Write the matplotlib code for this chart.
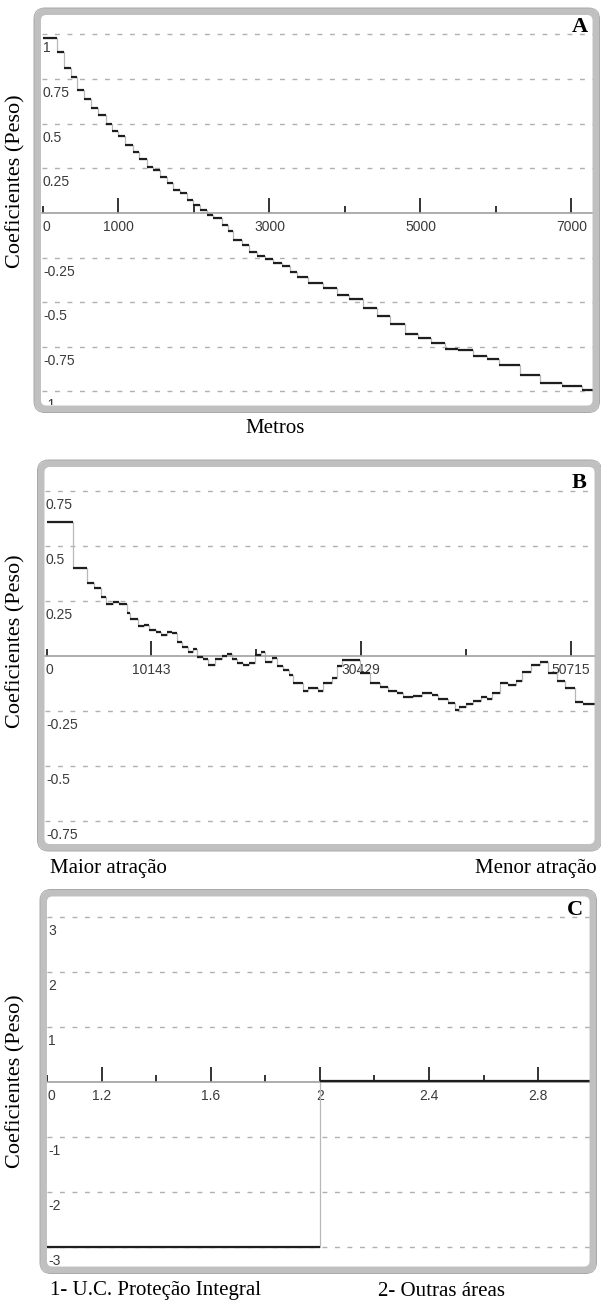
import matplotlib
matplotlib.use('Agg')
import matplotlib.pyplot as plt
import matplotlib.transforms as mtransforms
from matplotlib.patches import FancyBboxPatch

# Painel A: distancia (m) x coeficiente
dist_a = [0, 185, 278, 371, 450, 543, 636, 728, 834, 914,
          993, 1086, 1192, 1272, 1377, 1457, 1550, 1642, 1722, 1815,
          1907, 1987, 2079, 2172, 2252, 2371, 2450, 2517, 2636, 2728,
          2834, 2940, 3046, 3166, 3272, 3364, 3510, 3709, 3894, 4053,
          4238, 4424, 4596, 4795, 4967, 5139, 5325, 5497, 5695, 5881,
          6040, 6318, 6583, 6874, 7139]
coef_a = [0.98, 0.90, 0.81, 0.76, 0.69, 0.64, 0.59, 0.55, 0.50, 0.46,
          0.43, 0.38, 0.34, 0.30, 0.26, 0.24, 0.20, 0.17, 0.13, 0.11,
          0.07, 0.045, 0.017, -0.01, -0.03, -0.07, -0.10, -0.15, -0.18, -0.22,
          -0.24, -0.26, -0.28, -0.30, -0.33, -0.36, -0.39, -0.42, -0.46, -0.48,
          -0.53, -0.58, -0.62, -0.68, -0.70, -0.73, -0.76, -0.77, -0.80, -0.82,
          -0.85, -0.91, -0.95, -0.97, -0.99]
dist_a_end = 7285

# Painel B
dist_b = [0, 2577, 3872, 4610, 5227, 5711, 6389, 7029, 7744, 8064,
          8867, 9448, 9932, 10581, 11036, 11617, 12101, 12585, 13069, 13708,
          14134, 14579, 15160, 15644, 16293, 16941, 17483, 17909, 18393, 19032,
          19613, 20165, 20716, 21133, 21781, 22265, 22904, 23485, 23872, 24811,
          25295, 26263, 26747, 27619, 28103, 28590, 30329, 31297, 32265, 33040,
          33911, 34492, 35460, 36331, 37299, 37880, 38848, 39526, 39913, 40591,
          41268, 42043, 42624, 43108, 43882, 44657, 45431, 46012, 46883, 47754,
          48529, 49400, 50174, 51142, 51917, 53078]
coef_b = [0.61, 0.40, 0.33, 0.31, 0.27, 0.236, 0.247, 0.236, 0.194, 0.167,
          0.136, 0.142, 0.118, 0.11, 0.095, 0.11, 0.103, 0.065, 0.042, 0.02,
          0.03, -0.003, -0.015, -0.04, -0.015, 0.0, 0.009, -0.015, -0.033, -0.04,
          -0.03, 0.005, 0.02, -0.026, -0.01, -0.048, -0.064, -0.086, -0.124, -0.16,
          -0.147, -0.16, -0.124, -0.10, -0.048, -0.02, -0.079, -0.124, -0.139, -0.16,
          -0.17, -0.188, -0.18, -0.167, -0.177, -0.197, -0.215, -0.245, -0.23, -0.218,
          -0.205, -0.188, -0.197, -0.17, -0.124, -0.132, -0.112, -0.071, -0.041, -0.026,
          -0.079, -0.112, -0.147, -0.208, -0.22, -0.17]
dist_b_end = 53175

# Painel C: categorias
cat_c = [1, 2]
coef_c = [-3.0, 0.02]
cat_c_end = 3

W, H = 601, 1306
plt.rcParams['font.family'] = ['Liberation Sans', 'DejaVu Sans']
fig = plt.figure(figsize=(W / 100, H / 100), dpi=100)

TICK_COLOR = '#3a3a3a'
GRID_COLOR = '#b0b0b0'


def frame(l, t, r, b):
    patch = FancyBboxPatch((l / 100, (H - b) / 100), (r - l) / 100, (b - t) / 100,
                           boxstyle='round,pad=0,rounding_size=0.09',
                           transform=fig.dpi_scale_trans, fill=False,
                           ec='#c0c0c0', lw=5, zorder=5)
    fig.patches.append(patch)
    outer = FancyBboxPatch(((l - 3.5) / 100, (H - b - 3.5) / 100), (r - l + 7) / 100,
                           (b - t + 7) / 100,
                           boxstyle='round,pad=0,rounding_size=0.11',
                           transform=fig.dpi_scale_trans, fill=False,
                           ec='#a8a8a8', lw=0.7, zorder=5)
    fig.patches.append(outer)


def make_axes(l, t, r, b, xlim, ylim):
    ax = fig.add_axes([l / W, 1 - b / H, (r - l) / W, (b - t) / H])
    ax.set_xlim(*xlim)
    ax.set_ylim(*ylim)
    for side in ['top', 'right', 'left']:
        ax.spines[side].set_visible(False)
    ax.spines['bottom'].set_position(('data', 0))
    ax.spines['bottom'].set_color('#a0a0a0')
    ax.spines['bottom'].set_linewidth(1.2)
    ax.set_yticks([])
    ax.tick_params(axis='x', which='major', direction='in', length=11, width=1.4,
                   color='#333333', labelsize=10, labelcolor=TICK_COLOR, pad=5)
    ax.tick_params(axis='x', which='minor', direction='in', length=5, width=1.4,
                   color='#333333')
    return ax


def y_labels(ax, values, labels):
    trans = mtransforms.blended_transform_factory(ax.transAxes, ax.transData)
    trans = trans + mtransforms.ScaledTranslation(1 / 100, -14 / 100, fig.dpi_scale_trans)
    for v, lab in zip(values, labels):
        ax.text(0, v, lab, transform=trans, ha='left', va='center', fontsize=10,
                color=TICK_COLOR, clip_on=True)


def grid(ax, values):
    for v in values:
        ax.axhline(v, color=GRID_COLOR, lw=1.0, ls=(0, (3.5, 5.5)), zorder=1)


def draw_steps(ax, starts, values, end):
    edges = list(starts) + [end]
    ax.step(edges, list(values) + [values[-1]], where='post',
            color='#b8b8b8', lw=0.9, zorder=2)
    ax.hlines(values, edges[:-1], edges[1:], color='#1e1e1e', lw=1.6, zorder=3)


def letter(x, y, s):
    fig.text(x / W, 1 - y / H, s, ha='right', va='center', fontsize=16,
             fontweight='bold', family='Liberation Serif')


def ylabel(y):
    fig.text(16 / W, 1 - y / H, 'Coeficientes (Peso)', rotation=90, ha='center',
             va='center', fontsize=16, family='Liberation Serif')


# ---- A ----
ax_a = make_axes(42, 15, 593, 405, (-13, dist_a_end), (-1.076, 1.109))
grid(ax_a, [1, 0.75, 0.5, 0.25, -0.25, -0.5, -0.75, -1])
ax_a.set_xticks([1000, 3000, 5000, 7000], ['1000', '3000', '5000', '7000'])
ax_a.set_xticks([0, 2000, 4000, 6000], minor=True)
y_labels(ax_a, [1, 0.75, 0.5, 0.25, 0, -0.25, -0.5, -0.75, -1],
         ['1', '0.75', '0.5', '0.25', '0', '-0.25', '-0.5', '-0.75', '-1'])
draw_steps(ax_a, dist_a, coef_a, dist_a_end)
frame(37.5, 11.5, 596, 409)
letter(588, 27, 'A')
ylabel(181)
fig.text(275 / W, 1 - 428 / H, 'Metros', ha='center', va='center', fontsize=15,
         family='Liberation Serif')

# ---- B ----
ax_b = make_axes(45, 467, 596, 844, (-165, dist_b_end), (-0.855, 0.859))
grid(ax_b, [0.75, 0.5, 0.25, -0.25, -0.5, -0.75])
ax_b.set_xticks([10143, 30429, 50715], ['10143', '30429', '50715'])
ax_b.set_xticks([0, 20286, 40572], minor=True)
y_labels(ax_b, [0.75, 0.5, 0.25, 0, -0.25, -0.5, -0.75],
         ['0.75', '0.5', '0.25', '0', '-0.25', '-0.5', '-0.75'])
draw_steps(ax_b, dist_b, coef_b, dist_b_end)
frame(41, 463.5, 598, 847.5)
letter(586, 483, 'B')
ylabel(641)
fig.text(50 / W, 1 - 869 / H, 'Maior atração', ha='left', va='center', fontsize=15,
         family='Liberation Serif')
fig.text(597 / W, 1 - 869 / H, 'Menor atração', ha='right', va='center', fontsize=15,
         family='Liberation Serif')

# ---- C ----
ax_c = make_axes(47, 897, 590, 1267, (1.0, 2.99), (-3.36, 3.36))
grid(ax_c, [3, 2, 1, -1, -2, -3])
ax_c.set_xticks([1.2, 1.6, 2.0, 2.4, 2.8], ['1.2', '1.6', '2', '2.4', '2.8'])
ax_c.set_xticks([1.0, 1.4, 1.8, 2.2, 2.6], minor=True)
y_labels(ax_c, [3, 2, 1, 0, -1, -2, -3],
         ['3', '2', '1', '0', '-1', '-2', '-3'])
draw_steps(ax_c, cat_c, coef_c, cat_c_end)
frame(43.5, 893, 593, 1270)
letter(583, 910, 'C')
ylabel(1081)
fig.text(50 / W, 1 - 1291 / H, '1- U.C. Proteção Integral', ha='left', va='center',
         fontsize=15, family='Liberation Serif')
fig.text(378 / W, 1 - 1291 / H, '2- Outras áreas', ha='left', va='center',
         fontsize=15, family='Liberation Serif')

fig.savefig('out.png', dpi=100, facecolor='white')
